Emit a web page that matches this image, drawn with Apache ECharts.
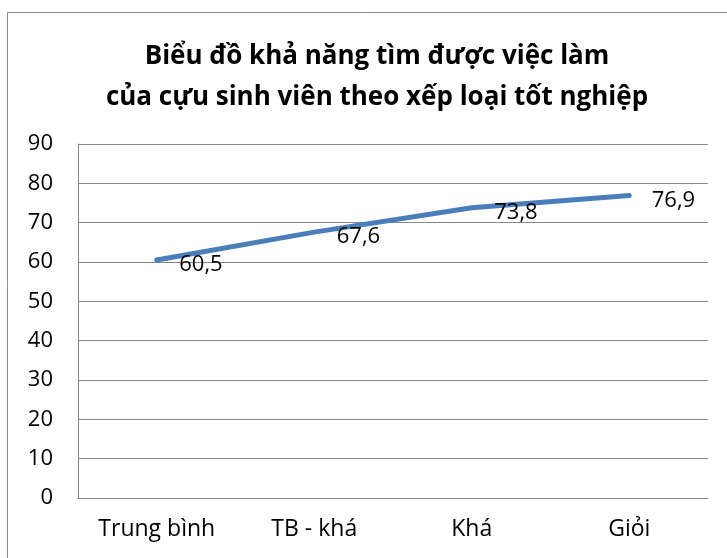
<!DOCTYPE html>
<html>
<head>
<meta charset="utf-8">
<script src="https://cdn.jsdelivr.net/npm/echarts@6/dist/echarts.min.js"></script>
<style>
  html, body { margin: 0; padding: 0; background: #fff; }
  #main { width: 727px; height: 558px; }
</style>
</head>
<body>
<div id="main"></div>
<script>
// dữ liệu
var categories = ['Trung bình', 'TB - khá', 'Khá', 'Giỏi'];
var values = [60.5, 67.6, 73.8, 76.9];
var yTicks = { min: 0, max: 90, interval: 10 };

var chart = echarts.init(document.getElementById('main'));
var font = '"Open Sans", "Noto Sans", sans-serif';

var option = {
    backgroundColor: '#fff',
    animation: false,
    graphic: [{
        type: 'rect',
        shape: { x: 7.5, y: 12.5, width: 740, height: 560 },
        style: { fill: 'none', stroke: '#8c8c8c', lineWidth: 1 }
    }],
    title: {
        text: 'Biểu đồ khả năng tìm được việc làm\ncủa cựu sinh viên theo xếp loại tốt nghiệp',
        left: 372,
        textAlign: 'center',
        top: 31,
        textStyle: {
            fontFamily: font,
            fontWeight: 'bold',
            fontSize: 26,
            lineHeight: 41,
            color: '#000'
        }
    },
    grid: { left: 78, right: 19, top: 144, bottom: 60 },
    xAxis: {
        type: 'category',
        data: categories,
        boundaryGap: true,
        axisLine: { lineStyle: { color: '#888', width: 1 } },
        axisTick: { show: false },
        axisLabel: { color: '#000', fontFamily: font, fontSize: 23, margin: 20 }
    },
    yAxis: {
        type: 'value',
        min: yTicks.min,
        max: yTicks.max,
        interval: yTicks.interval,
        axisLine: { show: true, lineStyle: { color: '#888', width: 1 } },
        axisTick: { show: false },
        splitLine: { lineStyle: { color: '#888', width: 1 } },
        axisLabel: { color: '#000', fontFamily: font, fontSize: 22, margin: 25 }
    },
    series: [{
        type: 'line',
        data: values,
        symbol: 'circle',
        symbolSize: 1,
        showSymbol: true,
        itemStyle: { color: 'rgba(0,0,0,0)' },
        lineStyle: { color: '#4a7ebb', width: 5, cap: 'round' },
        label: {
            show: true,
            position: 'right',
            distance: 22,
            offset: [0, 5],
            color: '#000',
            fontFamily: font,
            fontSize: 22,
            formatter: function (p) { return String(p.value).replace('.', ','); }
        }
    }]
};
chart.setOption(option);
</script>
</body>
</html>
